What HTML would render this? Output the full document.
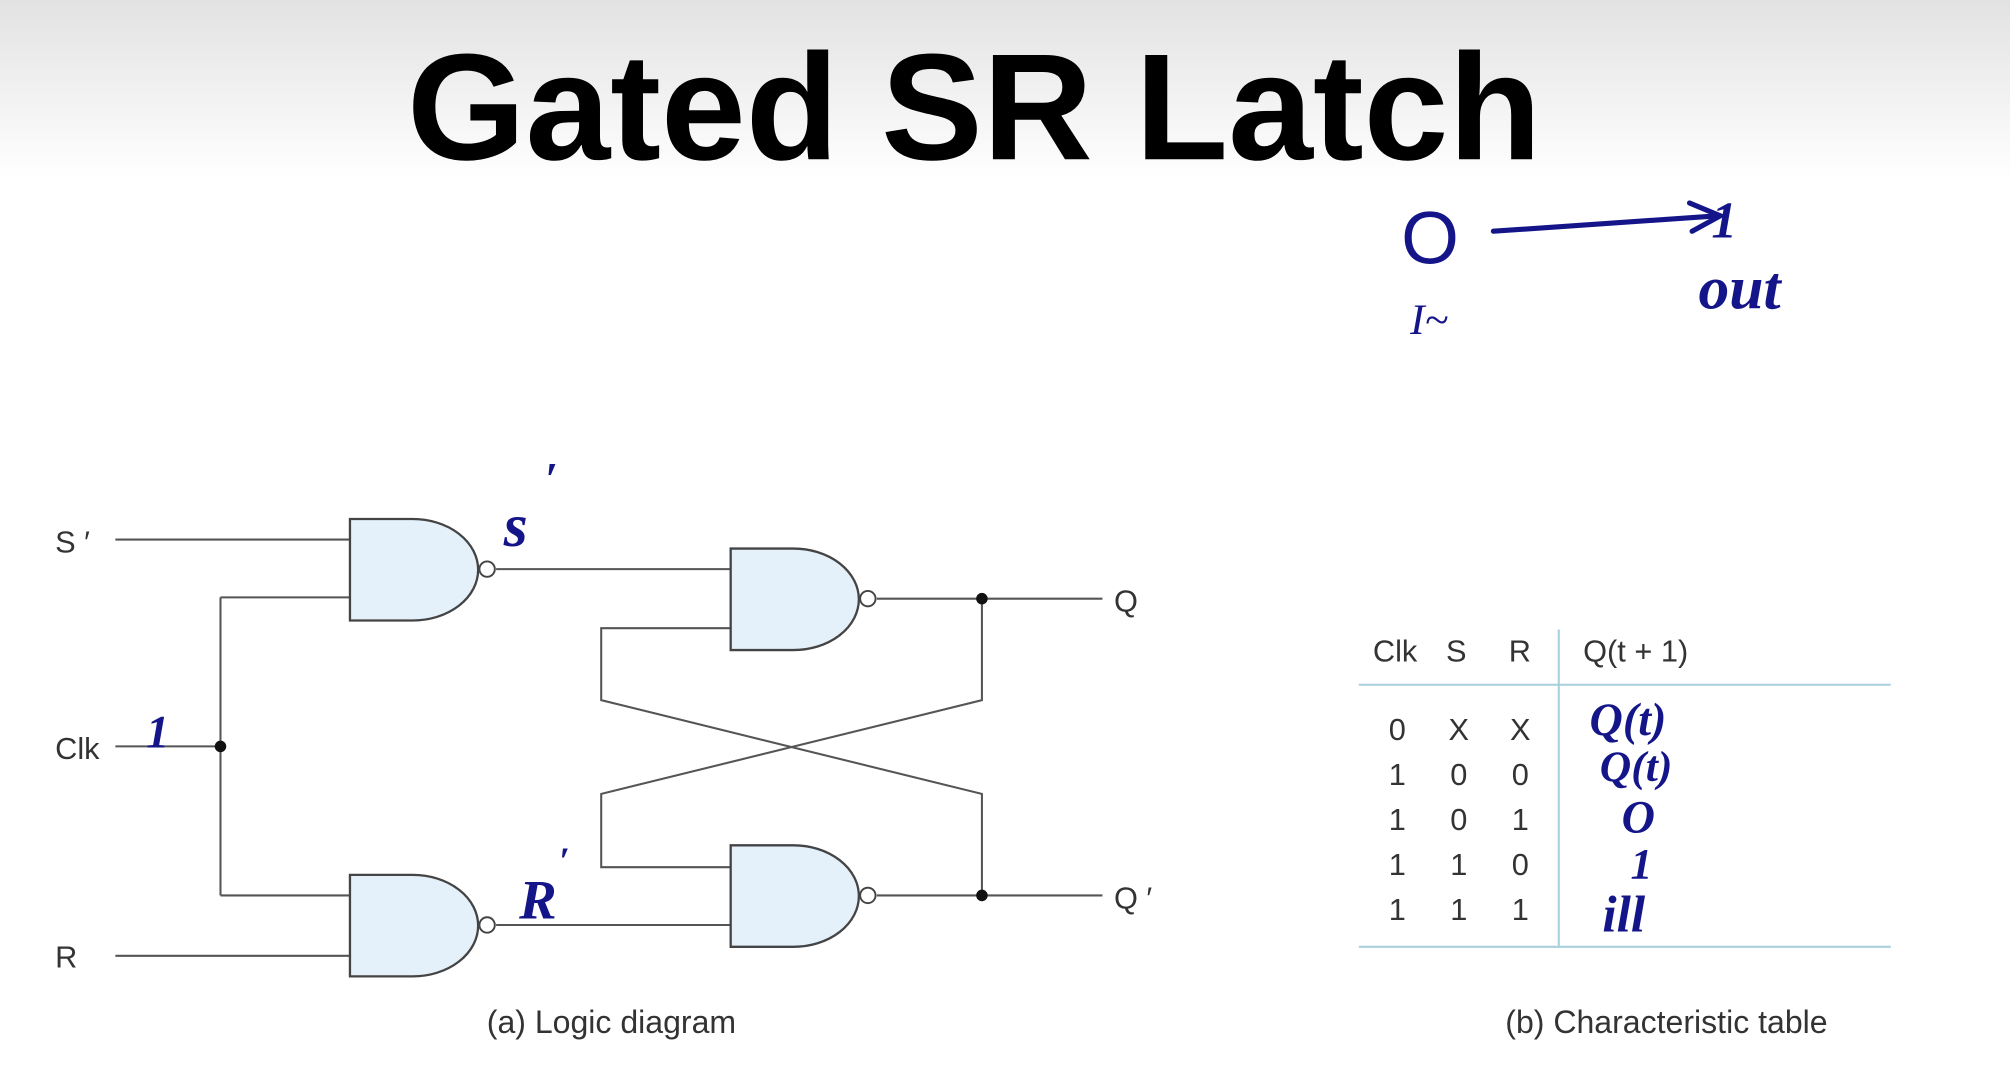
<!DOCTYPE html>
<html><head><meta charset="utf-8"><style>
html,body{margin:0;padding:0;background:#fff;}
svg{display:block;}
</style></head><body>
<svg width="2010" height="1074" viewBox="0 0 1568 836" preserveAspectRatio="none" xmlns="http://www.w3.org/2000/svg">
<defs><linearGradient id="g" x1="0" y1="0" x2="0" y2="1"><stop offset="0" stop-color="#e2e2e2"/><stop offset="1" stop-color="#ffffff"/></linearGradient></defs>
<rect x="0" y="0" width="1568" height="836" fill="#fff"/>
<rect x="0" y="0" width="1568" height="140" fill="url(#g)"/>
<text x="760" y="124" text-anchor="middle" font-family="Liberation Sans, sans-serif" font-weight="bold" font-size="118" fill="#000" textLength="885" lengthAdjust="spacingAndGlyphs">Gated SR Latch</text>

<g stroke="#555" stroke-width="1.6" fill="none">
<line x1="90" y1="420" x2="273" y2="420"/>
<line x1="172" y1="465" x2="273" y2="465"/>
<line x1="90" y1="581" x2="172" y2="581"/>
<line x1="172" y1="465" x2="172" y2="697"/>
<line x1="172" y1="697" x2="273" y2="697"/>
<line x1="90" y1="744" x2="273" y2="744"/>
<line x1="387" y1="443" x2="570" y2="443"/>
<line x1="387" y1="720" x2="570" y2="720"/>
<line x1="684" y1="466" x2="860" y2="466"/>
<line x1="684" y1="697" x2="860" y2="697"/>
<polyline points="570,489 469,489 469,545 766,618 766,697"/>
<polyline points="570,675 469,675 469,618 766,545 766,466"/>
</g>
<g fill="#e4f1fa" stroke="#444" stroke-width="1.8">
<path d="M273,404 H322 A51,39.5 0 0 1 322,483 H273 Z"/>
<path d="M273,681 H322 A51,39.5 0 0 1 322,760 H273 Z"/>
<path d="M570,427 H619 A51,39.5 0 0 1 619,506 H570 Z"/>
<path d="M570,658 H619 A51,39.5 0 0 1 619,737 H570 Z"/>
</g>
<g fill="#fff" stroke="#444" stroke-width="1.5">
<circle cx="380" cy="443" r="6"/><circle cx="380" cy="720" r="6"/>
<circle cx="677" cy="466" r="6"/><circle cx="677" cy="697" r="6"/>
</g>
<g fill="#111"><circle cx="172" cy="581" r="4.5"/><circle cx="766" cy="466" r="4.5"/><circle cx="766" cy="697" r="4.5"/></g>
<g font-family="Liberation Sans, sans-serif" font-size="24" fill="#333">
<text x="43" y="430">S ′</text><text x="43" y="591">Clk</text><text x="43" y="753">R</text>
<text x="869" y="476">Q</text><text x="869" y="707">Q ′</text>
<text x="477" y="804" text-anchor="middle" font-size="25">(a) Logic diagram</text>
<text x="1300" y="804" text-anchor="middle" font-size="25">(b) Characteristic table</text>
<text x="1071" y="515">Clk</text><text x="1128" y="515">S</text><text x="1177" y="515">R</text><text x="1235" y="515">Q(t + 1)</text>
<g text-anchor="middle">
<text x="1090" y="576">0</text><text x="1138" y="576">X</text><text x="1186" y="576">X</text>
<text x="1090" y="611">1</text><text x="1138" y="611">0</text><text x="1186" y="611">0</text>
<text x="1090" y="646">1</text><text x="1138" y="646">0</text><text x="1186" y="646">1</text>
<text x="1090" y="681">1</text><text x="1138" y="681">1</text><text x="1186" y="681">0</text>
<text x="1090" y="716">1</text><text x="1138" y="716">1</text><text x="1186" y="716">1</text>
</g>
</g>
<g stroke="#a8d0dc" stroke-width="1.6">
<line x1="1060" y1="533" x2="1475" y2="533"/><line x1="1060" y1="737" x2="1475" y2="737"/>
<line x1="1216" y1="490" x2="1216" y2="737"/>
</g>
<g font-family="Liberation Serif, serif" font-style="italic" fill="#15158a" font-weight="bold">
<text x="393" y="425" font-size="48">s</text><text x="425" y="385" font-size="36">′</text>
<text x="405" y="715" font-size="44">R</text><text x="436" y="680" font-size="30">′</text>
<text x="114" y="582" font-size="36">1</text>
<text x="1093" y="205" font-size="58" font-weight="normal" font-style="normal" font-family="Liberation Sans, sans-serif">O</text>
<text x="1100" y="260" font-size="34" font-weight="normal">I~</text>
<text x="1335" y="185" font-size="40">1</text>
<text x="1325" y="240" font-size="48">out</text>
<text x="1240" y="572" font-size="36">Q(t)</text>
<text x="1248" y="608" font-size="34">Q(t)</text>
<text x="1265" y="648" font-size="36">O</text>
<text x="1272" y="684" font-size="34">1</text>
<text x="1250" y="725" font-size="40">ill</text>
</g>
<g stroke="#15158a" stroke-width="4" fill="none" stroke-linecap="round">
<path d="M1165,180 L1340,168"/><path d="M1318,158 L1342,168 L1320,180"/>
</g>
</svg>
</body></html>
